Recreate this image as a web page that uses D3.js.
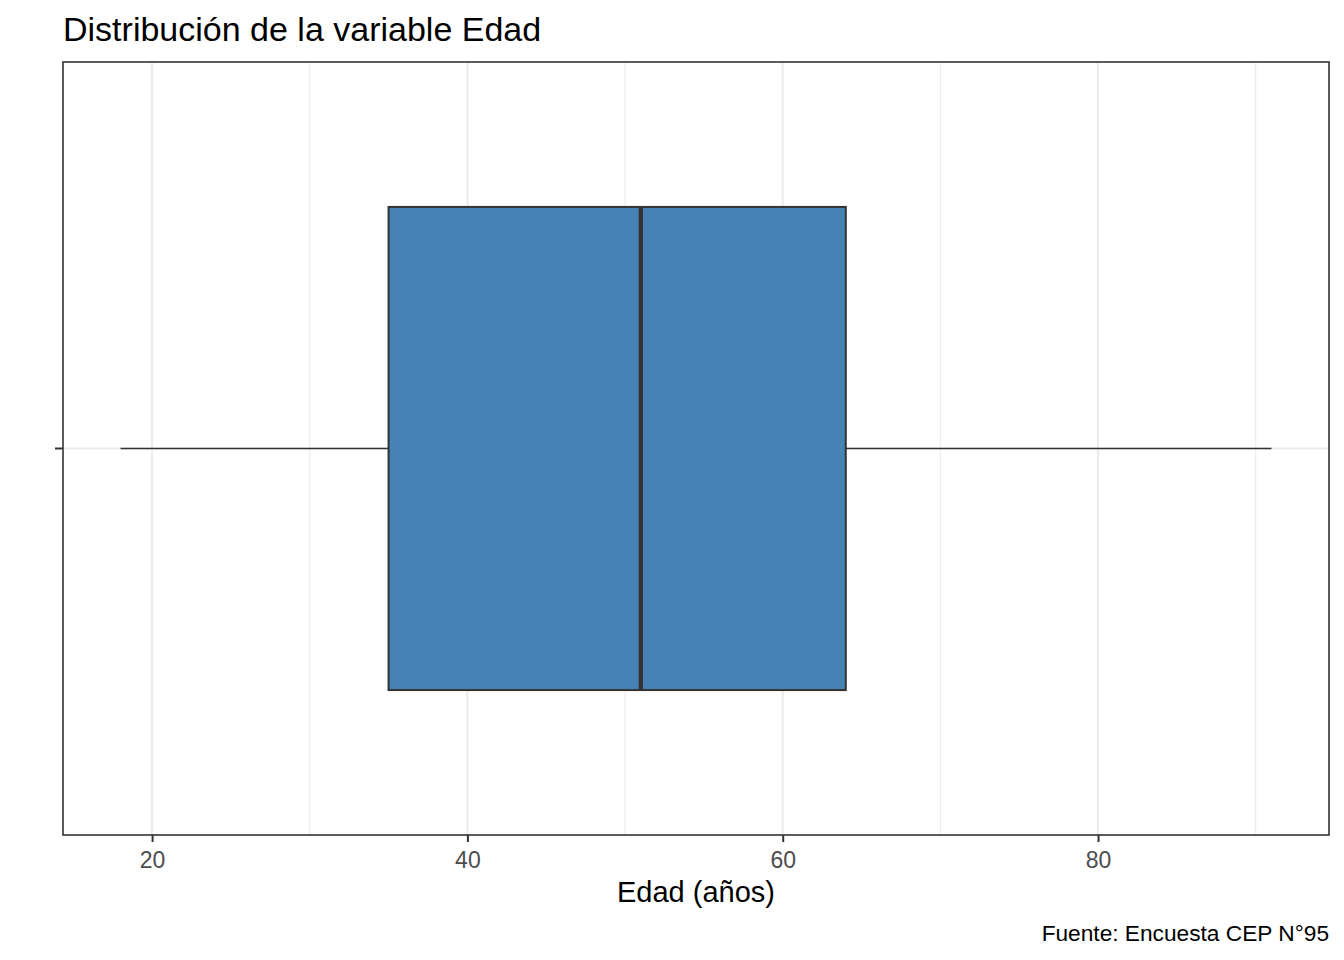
<!DOCTYPE html>
<html><head><meta charset="utf-8">
<script src="https://cdn.jsdelivr.net/npm/d3@7"></script>
<style>body{margin:0;background:#fff}text{font-family:"Liberation Sans",Arial,sans-serif}</style>
</head><body><svg id="c" width="1344" height="960"></svg>
<script>
const category = ["Edad"];
const stats = {min: 18, q1: 35, median: 51, q3: 64, max: 91};
const xTicks = [20, 40, 60, 80];
const xMinor = [30, 50, 70, 90];
const title = "Distribución de la variable Edad";
const xLabel = "Edad (años)";
const caption = "Fuente: Encuesta CEP N°95";

const svg = d3.select("#c");
const L = 63, R = 1329, T = 62, B = 835;
const span = stats.max - stats.min;
const x = d3.scaleLinear().domain([stats.min - 0.05*span, stats.max + 0.05*span]).range([L, R]);
const unit = (B - T) / 1.2;
const yc = (T + B) / 2;

svg.append("rect").attr("x", 0).attr("y", 0).attr("width", 1344).attr("height", 960).attr("fill", "#fff");
svg.selectAll(".minor").data(xMinor).enter().append("line")
  .attr("x1", d => x(d)).attr("x2", d => x(d)).attr("y1", T).attr("y2", B)
  .attr("stroke", "#EBEBEB").attr("stroke-width", 1.1);
svg.selectAll(".major").data(xTicks).enter().append("line")
  .attr("x1", d => x(d)).attr("x2", d => x(d)).attr("y1", T).attr("y2", B)
  .attr("stroke", "#EBEBEB").attr("stroke-width", 2.1);
svg.append("line").attr("x1", L).attr("x2", R).attr("y1", yc).attr("y2", yc)
  .attr("stroke", "#EBEBEB").attr("stroke-width", 2.1);

svg.append("line").attr("x1", x(stats.min)).attr("x2", x(stats.q1)).attr("y1", yc).attr("y2", yc)
  .attr("stroke", "#333333").attr("stroke-width", 1.6);
svg.append("line").attr("x1", x(stats.q3)).attr("x2", x(stats.max)).attr("y1", yc).attr("y2", yc)
  .attr("stroke", "#333333").attr("stroke-width", 1.6);
const hw = unit * 0.375;
svg.append("rect").attr("x", x(stats.q1)).attr("y", yc - hw)
  .attr("width", x(stats.q3) - x(stats.q1)).attr("height", 2*hw)
  .attr("fill", "#4682B4").attr("stroke", "#333333").attr("stroke-width", 2);
svg.append("line").attr("x1", x(stats.median)).attr("x2", x(stats.median))
  .attr("y1", yc - hw).attr("y2", yc + hw).attr("stroke", "#333333").attr("stroke-width", 4.3);

svg.append("rect").attr("x", L).attr("y", T).attr("width", R - L).attr("height", B - T)
  .attr("fill", "none").attr("stroke", "#333333").attr("stroke-width", 1.6);

const xa = svg.append("g").attr("transform", `translate(0,${B})`)
  .call(d3.axisBottom(x).tickValues(xTicks).tickSize(7).tickPadding(10).tickFormat(d3.format("d")));
xa.select(".domain").remove();
xa.selectAll("line").attr("stroke", "#333333").attr("stroke-width", 2);
xa.selectAll("text").attr("fill", "#4D4D4D").style("font-size", "23px")
  .style("font-family", '"Liberation Sans",Arial,sans-serif');
svg.append("line").attr("x1", L - 8).attr("x2", L).attr("y1", yc).attr("y2", yc)
  .attr("stroke", "#333333").attr("stroke-width", 2);

svg.append("text").attr("x", L).attr("y", 41).attr("font-size", 34).attr("fill", "#000").text(title);
svg.append("text").attr("x", (L + R) / 2).attr("y", 902).attr("text-anchor", "middle")
  .attr("font-size", 29).attr("fill", "#000").text(xLabel);
svg.append("text").attr("x", R).attr("y", 941).attr("text-anchor", "end")
  .attr("font-size", 22.7).attr("fill", "#000").text(caption);
</script></body></html>
